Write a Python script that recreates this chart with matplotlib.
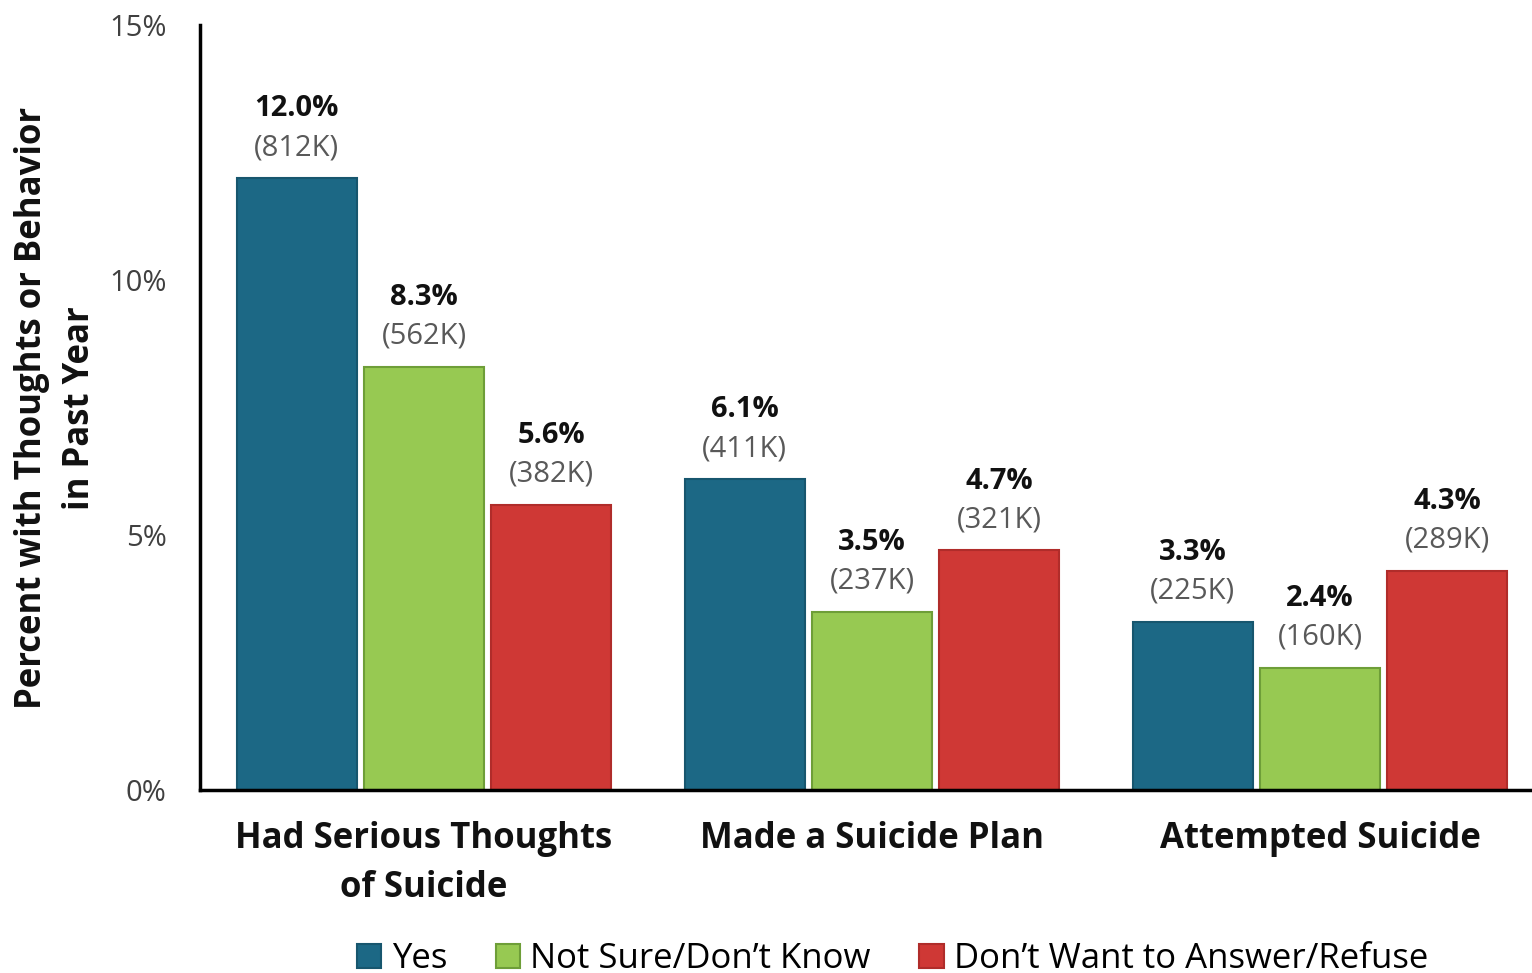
import matplotlib.pyplot as plt
import numpy as np

plt.rcParams['font.family'] = ['Open Sans', 'DejaVu Sans']

categories = ['Had Serious Thoughts\nof Suicide', 'Made a Suicide Plan', 'Attempted Suicide']
series_names = ['Yes', 'Not Sure/Don\u2019t Know', 'Don\u2019t Want to Answer/Refuse']
yes_pct = [12.0, 6.1, 3.3]
notsure_pct = [8.3, 3.5, 2.4]
refuse_pct = [5.6, 4.7, 4.3]
yes_n = ['812K', '411K', '225K']
notsure_n = ['562K', '237K', '160K']
refuse_n = ['382K', '321K', '289K']

colors = ['#1c6885', '#97c952', '#cf3835']
edges = ['#17566e', '#6e9e38', '#b02c2a']

fig = plt.figure(figsize=(15.32, 9.73), dpi=100)
ax = fig.add_axes([0.1305, 0.188, 0.8695, 0.786])

x = np.arange(len(categories))
pitch = 0.284
width = 0.268
all_pct = [yes_pct, notsure_pct, refuse_pct]
all_n = [yes_n, notsure_n, refuse_n]
for i in range(3):
    xs = x + (i - 1) * pitch
    ax.bar(xs, all_pct[i], width, color=colors[i], edgecolor=edges[i], linewidth=1.5,
           label=series_names[i])
    for xi, v, n in zip(xs, all_pct[i], all_n[i]):
        ax.annotate('%.1f%%' % v, (xi, v), xytext=(0, 50), textcoords='offset points',
                    ha='center', va='center', fontsize=21, fontweight='bold', color='#111111')
        ax.annotate('(%s)' % n, (xi, v), xytext=(0, 22), textcoords='offset points',
                    ha='center', va='center', fontsize=21, color='#595959')

ax.set_xlim(-0.5, 2.473)
ax.set_ylim(0, 15)
ax.set_yticks([0, 5, 10, 15])
ax.set_yticklabels(['0%', '5%', '10%', '15%'], fontsize=21, color='#404040')
ax.set_xticks(x)
ax.set_xticklabels(categories, fontsize=25, fontweight='bold', color='#111111', linespacing=1.5)
ax.tick_params(axis='both', length=0)
ax.tick_params(axis='y', pad=24)
ax.tick_params(axis='x', pad=22)
for s in ['top', 'right']:
    ax.spines[s].set_visible(False)
ax.spines['left'].set_linewidth(2.5)
ax.spines['bottom'].set_linewidth(2.5)
ax.set_ylabel('Percent with Thoughts or Behavior\nin Past Year', fontsize=25, fontweight='bold',
              color='#111111', labelpad=8, linespacing=1.45)

ax.legend(loc='lower center', bbox_to_anchor=(0.52, -0.284), ncol=3, frameon=False,
          fontsize=25, handlelength=0.7, handleheight=0.7, handletextpad=0.3, columnspacing=1.4)

fig.savefig('out.png', dpi=100)
